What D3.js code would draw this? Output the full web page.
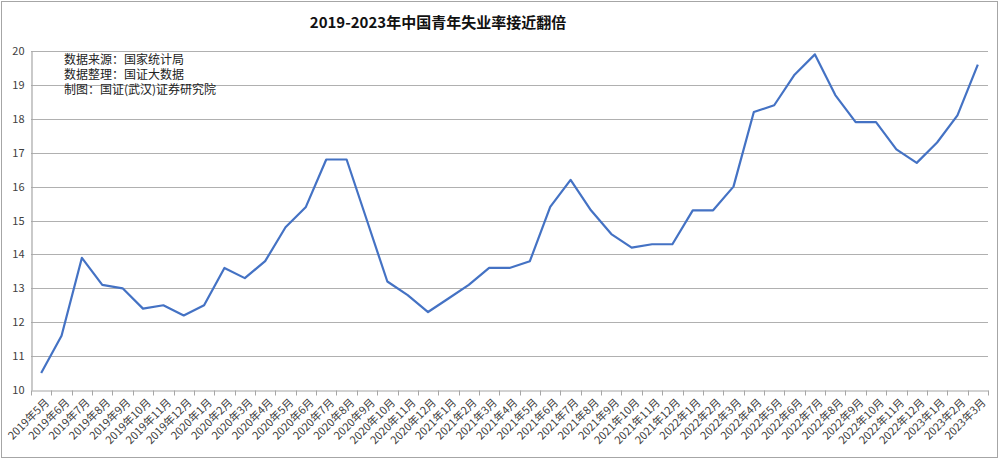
<!DOCTYPE html>
<html>
<head>
<meta charset="utf-8">
<script src="https://cdn.jsdelivr.net/npm/d3@7"></script>
<style>
html,body{margin:0;padding:0;background:#fff;}
svg{display:block;}
</style>
</head>
<body>
<svg id="chart" width="1000" height="459"></svg>
<script>
const months = [
 "2019年5月","2019年6月","2019年7月","2019年8月","2019年9月","2019年10月","2019年11月","2019年12月",
 "2020年1月","2020年2月","2020年3月","2020年4月","2020年5月","2020年6月","2020年7月","2020年8月","2020年9月","2020年10月","2020年11月","2020年12月",
 "2021年1月","2021年2月","2021年3月","2021年4月","2021年5月","2021年6月","2021年7月","2021年8月","2021年9月","2021年10月","2021年11月","2021年12月",
 "2022年1月","2022年2月","2022年3月","2022年4月","2022年5月","2022年6月","2022年7月","2022年8月","2022年9月","2022年10月","2022年11月","2022年12月",
 "2023年1月","2023年2月","2023年3月"
];
const rates = [
 10.5,11.6,13.9,13.1,13.0,12.4,12.5,12.2,
 12.5,13.6,13.3,13.8,14.8,15.4,16.8,16.8,15.0,13.2,12.8,12.3,
 12.7,13.1,13.6,13.6,13.8,15.4,16.2,15.3,14.6,14.2,14.3,14.3,
 15.3,15.3,16.0,18.2,18.4,19.3,19.9,18.7,17.9,17.9,17.1,16.7,
 17.3,18.1,19.6
];
const yTicks = [10,11,12,13,14,15,16,17,18,19,20];
const titleText = "2019-2023年中国青年失业率接近翻倍";
const notes = ["数据来源：国家统计局","数据整理：国证大数据","制图：国证(武汉)证券研究院"];

const svg = d3.select("#chart");
const font = "'Noto Sans CJK SC','Noto Sans',sans-serif";
const L = 31, R = 988, T = 51, B = 390;

svg.append("rect").attr("x",1.5).attr("y",1.5).attr("width",996).attr("height",456)
  .attr("fill","#fff").attr("stroke","#a6a6a6").attr("stroke-width",1);

const x = d3.scaleBand().domain(months).range([L,R]).padding(0);
const y = d3.scaleLinear().domain([10,20]).range([B,T]);

// gridlines
svg.append("g").selectAll("line").data(yTicks.filter(d=>d>10)).join("line")
  .attr("x1",L).attr("x2",R)
  .attr("y1",d=>Math.round(y(d))+0.5).attr("y2",d=>Math.round(y(d))+0.5)
  .attr("stroke","#b0b0b0").attr("stroke-width",1.2);

// y axis
const yAxis = svg.append("g").attr("transform",`translate(${L+0.5},0)`)
  .call(d3.axisLeft(y).tickValues(yTicks).tickSize(0).tickPadding(7).tickFormat(d3.format("d")));
yAxis.select(".domain").attr("stroke","#a6a6a6").attr("stroke-width",1.2);
yAxis.selectAll("text").attr("font-family",font).attr("font-size",11).attr("fill","#404040");

// x axis
const xAxis = svg.append("g").attr("transform",`translate(0,${Math.round(B)+0.5})`)
  .call(d3.axisBottom(x).tickSize(0).tickFormat(d=>d));
xAxis.select(".domain").attr("stroke","#a6a6a6").attr("stroke-width",1.2);
const bounds = months.map(m=>x(m)).concat([R]);
xAxis.selectAll("line.bt").data(bounds).join("line").attr("class","bt")
  .attr("x1",d=>Math.round(d)+0.5).attr("x2",d=>Math.round(d)+0.5)
  .attr("y1",0).attr("y2",5).attr("stroke","#a6a6a6");
xAxis.selectAll(".tick text")
  .attr("font-family",font).attr("font-size",11).attr("fill","#404040")
  .attr("text-anchor","end")
  .attr("transform","translate(6,10) rotate(-45)")
  .attr("dy","0.35em").attr("y",0);

// line
const line = d3.line().x((d,i)=>x(months[i])+x.bandwidth()/2).y(d=>y(d));
svg.append("path").datum(rates).attr("d",line)
  .attr("fill","none").attr("stroke","#4472c4").attr("stroke-width",2.2)
  .attr("stroke-linejoin","round");

// title
svg.append("text").attr("x",438).attr("y",28).attr("text-anchor","middle")
  .attr("font-family",font).attr("font-weight","bold").attr("font-size",15)
  .attr("fill","#111").text(titleText);

// notes
svg.append("g").selectAll("text").data(notes).join("text")
  .attr("x",64).attr("y",(d,i)=>64+i*15)
  .attr("font-family",font).attr("font-size",12).attr("fill","#222").text(d=>d);
</script>
</body>
</html>
